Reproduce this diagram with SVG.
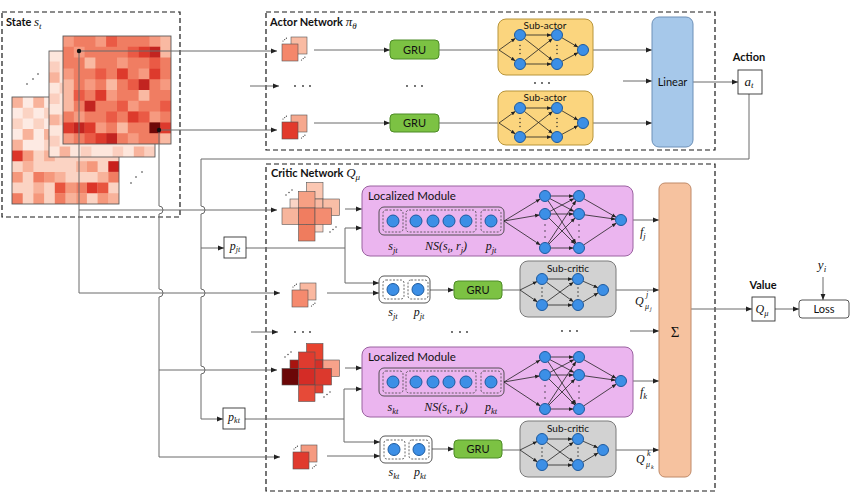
<svg xmlns="http://www.w3.org/2000/svg" width="856" height="494" viewBox="0 0 856 494">
<style>
.t{font-family:Lato,"Open Sans",sans-serif;fill:#111}
.b{font-weight:bold;font-size:11px}
.lb{font-family:Lato,"Open Sans",sans-serif;font-size:10px;text-anchor:middle;fill:#111}
.lg{font-size:11px}
.m{font-family:"Liberation Serif","DejaVu Serif",serif;font-style:italic;font-weight:normal;fill:#111}
.ln{stroke:#6a6a6a;stroke-width:1;fill:none}
.ar{marker-end:url(#ah)}
.dash{fill:none;stroke:#1a1a1a;stroke-width:1.2;stroke-dasharray:5 3}
.db{fill:none;stroke:#444;stroke-width:0.8;stroke-dasharray:2 1.5}
.nd{fill:#3c8fe6;stroke:#1d5a9e;stroke-width:1}
.e{stroke:#222;stroke-width:0.8;fill:none;marker-end:url(#sh)}
.cl{stroke:#555;stroke-width:0.6}
.gru{fill:#7cc243;stroke:#4d8b26;stroke-width:1}
.box{fill:#fff;stroke:#333;stroke-width:0.9}
</style>
<defs>
<marker id="ah" markerUnits="userSpaceOnUse" markerWidth="6" markerHeight="6" viewBox="0 0 6 6" refX="6" refY="3" orient="auto"><path d="M0,0.6L6,3L0,5.4z" fill="#222"/></marker>
<marker id="sh" markerUnits="userSpaceOnUse" markerWidth="4.5" markerHeight="4.5" viewBox="0 0 6 6" refX="6" refY="3" orient="auto"><path d="M0,0.5L6,3L0,5.5z" fill="#222"/></marker>
<g id="sa">
<path class="e" d="M0,0L16.5,-11.8"/><path class="e" d="M0,0L16.4,10.9"/>
<path class="e" d="M26.5,-15H52.5"/><path class="e" d="M26.5,14H52.5"/>
<path class="e" d="M25.3,-11.6L53.7,10.6"/><path class="e" d="M25.3,10.6L53.7,-11.6"/>
<path class="e" d="M62.8,-12.3L79.2,-2.75"/><path class="e" d="M62.8,11.4L79.2,2.6"/>
<circle class="nd" cx="21" cy="-15" r="5.5"/><circle class="nd" cx="21" cy="14" r="5.5"/>
<circle class="nd" cx="58" cy="-15" r="5.5"/><circle class="nd" cx="58" cy="14" r="5.5"/>
<circle class="nd" cx="84" cy="0" r="5.5"/>
<g fill="#222"><circle cx="21" cy="-4.5" r="0.7"/><circle cx="21" cy="-0.5" r="0.7"/><circle cx="21" cy="3.5" r="0.7"/><circle cx="58" cy="-4.5" r="0.7"/><circle cx="58" cy="-0.5" r="0.7"/><circle cx="58" cy="3.5" r="0.7"/></g>
</g>
<g id="sc">
<path class="e" d="M0,0L17.1,-8.5"/><path class="e" d="M0,0L17.5,11.9"/>
<path class="e" d="M27.5,-11H52.5"/><path class="e" d="M27.5,15H52.5"/>
<path class="e" d="M26.5,-7.8L53.5,11.8"/><path class="e" d="M26.5,11.8L53.5,-7.8"/>
<path class="e" d="M63,-8.8L78,-2.2"/><path class="e" d="M62.7,12.2L78.3,2.8"/>
<circle class="nd" cx="22" cy="-11" r="5.5"/><circle class="nd" cx="22" cy="15" r="5.5"/>
<circle class="nd" cx="58" cy="-11" r="5.5"/><circle class="nd" cx="58" cy="15" r="5.5"/>
<circle class="nd" cx="83" cy="0" r="5.5"/>
<g fill="#222"><circle cx="22" cy="-2" r="0.7"/><circle cx="22" cy="2" r="0.7"/><circle cx="22" cy="6" r="0.7"/><circle cx="58" cy="-2" r="0.7"/><circle cx="58" cy="2" r="0.7"/><circle cx="58" cy="6" r="0.7"/></g>
</g>
<g id="lm">
<path class="e" d="M0,0L36.3,-22.1"/><path class="e" d="M0,0L35.6,-6.1"/><path class="e" d="M0,0L36.4,24"/>
<path class="e" d="M46.5,-25H69.5"/><path class="e" d="M46.5,-7H69.5"/><path class="e" d="M46.5,27H69.5"/>
<path class="e" d="M45.9,-22.4L70.1,-9.6"/><path class="e" d="M44,-20.4L72,22.4"/>
<path class="e" d="M45.9,-9.6L70.1,-22.4"/><path class="e" d="M44.9,-3.1L71.1,23.1"/>
<path class="e" d="M44,22.4L72,-20.4"/><path class="e" d="M44.9,23.1L71.1,-3.1"/>
<path class="e" d="M79.8,-22.3L112.2,-3.7"/><path class="e" d="M80.4,-6.2L111.6,-1.8"/><path class="e" d="M79.6,24L112.4,2.1"/>
<circle class="nd" cx="41" cy="-25" r="5.5"/><circle class="nd" cx="41" cy="-7" r="5.5"/><circle class="nd" cx="41" cy="27" r="5.5"/>
<circle class="nd" cx="75" cy="-25" r="5.5"/><circle class="nd" cx="75" cy="-7" r="5.5"/><circle class="nd" cx="75" cy="27" r="5.5"/>
<circle class="nd" cx="117" cy="-1" r="5.5"/>
<g fill="#222"><circle cx="41" cy="4" r="0.7"/><circle cx="41" cy="10" r="0.7"/><circle cx="41" cy="16" r="0.7"/><circle cx="75" cy="4" r="0.7"/><circle cx="75" cy="10" r="0.7"/><circle cx="75" cy="16" r="0.7"/></g>
</g>
<g id="pd" fill="#333"><circle cx="1" cy="4" r="0.6"/><circle cx="2.7" cy="2.6" r="0.6"/><circle cx="4.4" cy="1.2" r="0.6"/><circle cx="19.5" cy="23" r="0.6"/><circle cx="21.2" cy="21.6" r="0.6"/><circle cx="22.9" cy="20.2" r="0.6"/></g>
</defs>
<rect width="856" height="494" fill="#fff"/>

<g id="state">
<rect class="dash" x="2" y="12" width="178" height="205"/>
<text x="6" y="26" class="t b">State <tspan class="m" font-size="13">s</tspan><tspan class="m" font-size="9" dy="3">t</tspan></text>
<g transform="translate(12,97) scale(10.7)">
<rect width="10" height="10" fill="#fbd3c3"/>
<path fill="#fdeae3" d="M1 0h1v1h-1zM2 1h1v1h-1zM3 2h1v1h-1zM0 3h1v1h-1zM2 4h1v1h-1zM1 2h1v1h-1zM3 0h1v1h-1zM0 1h1v1h-1zM2 3h1v1h-1zM1 4h1v1h-1z"/>
<path fill="#f8b29a" d="M0 0h1v1h-1zM2 0h1v1h-1zM1 3h1v1h-1zM3 3h1v1h-1zM0 4h1v1h-1zM3 5h1v1h-1zM1 6h1v1h-1zM4 7h1v1h-1zM6 6h1v1h-1zM8 7h1v1h-1zM2 8h1v1h-1zM5 9h1v1h-1zM9 9h1v1h-1z"/>
<path fill="#f5987c" d="M1 5h1v1h-1zM0 7h1v1h-1zM5 8h1v1h-1zM3 7h1v1h-1zM7 6h1v1h-1zM6 9h1v1h-1zM8 9h1v1h-1zM2 9h1v1h-1z"/>
<path fill="#f07d62" d="M2 7h1v1h-1zM9 7h1v1h-1zM4 9h1v1h-1zM0 9h1v1h-1zM6 8h1v1h-1z"/>
<path fill="#e8553f" d="M8 8h1v1h-1zM4 8h1v1h-1z"/>
<path fill="#dc3529" d="M0 5h1v1h-1zM7 8h1v1h-1z"/>
<path fill="#c8201c" d="M9 6h1v1h-1z"/>
<rect width="10" height="10" fill="none" stroke="#555" stroke-width="0.08"/>
</g>
<g transform="translate(49,51) scale(10.6)">
<rect width="10" height="10" fill="#fde6dc"/>
<path fill="#fbcfbf" d="M0 1h1v1h-1zM0 4h1v1h-1zM1 6h1v1h-1zM0 8h1v1h-1zM3 9h1v1h-1zM6 9h1v1h-1zM9 9h1v1h-1zM1 3h1v1h-1z"/>
<path fill="#f8b39c" d="M0 2h1v1h-1zM0 6h1v1h-1zM1 9h1v1h-1zM8 9h1v1h-1z"/>
<rect width="10" height="10" fill="none" stroke="#555" stroke-width="0.08"/>
</g>
<g transform="translate(63,36) scale(10.8)">
<rect width="10" height="10" fill="#f07d62"/>
<path fill="#f69a80" d="M0 0h1v1h-1zM3 0h1v1h-1zM8 0h1v1h-1zM1 1h1v1h-1zM5 2h1v1h-1zM0 3h1v1h-1zM7 3h1v1h-1zM2 4h1v1h-1zM9 4h1v1h-1zM4 5h1v1h-1zM6 6h1v1h-1zM1 7h1v1h-1zM8 7h1v1h-1zM3 8h1v1h-1zM0 9h1v1h-1zM6 9h1v1h-1z"/>
<path fill="#f9b9a2" d="M9 0h1v1h-1zM2 2h1v1h-1zM4 4h1v1h-1zM0 6h1v1h-1zM7 5h1v1h-1zM5 8h1v1h-1zM9 9h1v1h-1zM0 4h1v1h-1zM0 5h1v1h-1zM9 1h1v1h-1z"/>
<path fill="#ea5a45" d="M4 0h1v1h-1zM6 1h1v1h-1zM8 2h1v1h-1zM3 3h1v1h-1zM1 5h1v1h-1zM5 6h1v1h-1zM7 7h1v1h-1zM2 9h1v1h-1zM9 6h1v1h-1zM4 7h1v1h-1zM6 4h1v1h-1z"/>
<path fill="#dd3a2c" d="M7 1h1v1h-1zM5 3h1v1h-1zM8 3h1v1h-1zM3 5h1v1h-1zM0 8h1v1h-1zM9 8h1v1h-1zM6 7h1v1h-1zM3 9h1v1h-1zM2 8h1v1h-1z"/>
<path fill="#c22420" d="M8 1h1v1h-1zM7 4h1v1h-1zM4 9h1v1h-1zM1 8h1v1h-1zM2 6h1v1h-1z"/>
<path fill="#6e0808" d="M8 8h1v1h-1z"/>
<rect width="10" height="10" fill="none" stroke="#555" stroke-width="0.08"/>
</g>
<g fill="#333"><circle cx="27" cy="84" r="0.8"/><circle cx="33" cy="79" r="0.8"/><circle cx="38" cy="74" r="0.8"/><circle cx="131" cy="183" r="0.8"/><circle cx="136" cy="177" r="0.8"/><circle cx="142" cy="172" r="0.8"/></g>
</g>

<g id="actor-frame">
<rect class="dash" x="266" y="12" width="449" height="138"/>
<text x="270" y="26" class="t b">Actor Network <tspan class="m" font-size="13">π</tspan><tspan class="m" font-size="9" dy="3">θ</tspan></text>
<g fill="#333"><circle cx="295" cy="86" r="0.9"/><circle cx="303" cy="86" r="0.9"/><circle cx="310" cy="86" r="0.9"/><circle cx="407" cy="86" r="0.9"/><circle cx="415" cy="86" r="0.9"/><circle cx="422" cy="86" r="0.9"/><circle cx="535" cy="83" r="0.9"/><circle cx="542" cy="83" r="0.9"/><circle cx="549" cy="83" r="0.9"/></g>
</g>
<g id="critic-frame">
<rect class="dash" x="266" y="164" width="449" height="327"/>
<text x="271" y="177" class="t b">Critic Network <tspan class="m" font-size="13">Q</tspan><tspan class="m" font-size="9" dy="3">μ</tspan></text>
<g fill="#333"><circle cx="295" cy="332" r="0.9"/><circle cx="303" cy="332" r="0.9"/><circle cx="310" cy="332" r="0.9"/><circle cx="452" cy="332" r="0.9"/><circle cx="460" cy="332" r="0.9"/><circle cx="467" cy="332" r="0.9"/><circle cx="562" cy="331" r="0.9"/><circle cx="570" cy="331" r="0.9"/><circle cx="577" cy="331" r="0.9"/></g>
</g>

<g id="connectors">
<path class="ln ar" d="M79,51H277"/>
<path class="ln ar" d="M79,51V293H280"/>
<path class="ln ar" d="M79,210H277"/>
<path class="ln ar" d="M159,130H277"/>
<path class="ln ar" d="M159,130V206A4,4 0 0 1 159,214V289A4,4 0 0 1 159,297V457H280"/>
<path class="ln ar" d="M159,370H277"/>
<path class="ln ar" d="M749,94V159H201V206A4,4 0 0 1 201,214V289A4,4 0 0 1 201,297V366A4,4 0 0 1 201,374V419H223"/>
<path class="ln ar" d="M201,248H224"/>
<path class="ln" d="M246,248H345M345,228V283"/>
<path class="ln ar" d="M345,228H362"/>
<path class="ln ar" d="M345,283H379"/>
<path class="ln" d="M245,419H344M344,389V442"/>
<path class="ln ar" d="M344,389H362"/>
<path class="ln ar" d="M344,442H380"/>
<path class="ln ar" d="M314,50H390"/>
<path class="ln" d="M439,50H499"/>
<path class="ln ar" d="M314,123H390"/>
<path class="ln" d="M439,123H499"/>
<path class="ln ar" d="M589.5,50H652"/>
<path class="ln ar" d="M589.5,123H652"/>
<path class="ln ar" d="M623,81H652"/>
<path class="ln ar" d="M693,82H738"/>
<path class="ln ar" d="M250,86H279"/>
<path class="ln ar" d="M251,332H278"/>
<path class="ln ar" d="M327,293H379"/>
<path class="ln ar" d="M327,456H380"/>
<path class="ln ar" d="M345,209H362"/>
<path class="ln ar" d="M345,368H362"/>
<path class="ln ar" d="M430,290H454"/>
<path class="ln" d="M502,290H520"/>
<path class="ln ar" d="M432,449H454"/>
<path class="ln" d="M502,450H520"/>
<path class="ln ar" d="M626.5,220H659"/>
<path class="ln ar" d="M608.5,290H659"/>
<path class="ln ar" d="M630,331H659"/>
<path class="ln ar" d="M626.5,381H659"/>
<path class="ln ar" d="M608.5,450H659"/>
<path class="ln ar" d="M691,309H752"/>
<path class="ln ar" d="M775,309H799"/>
<path class="ln ar" d="M823,277V300"/>
<circle cx="79" cy="51" r="2.2" fill="#111"/>
<circle cx="159" cy="130" r="2.2" fill="#111"/>
</g>

<g id="actor-pair-1">
<rect class="cl" x="291" y="37" width="16" height="17" fill="#f9bba3"/>
<rect class="cl" x="282" y="44" width="16" height="17" fill="#f4876b"/>
<use href="#pd" x="282" y="37"/>
</g>
<g id="actor-pair-2">
<rect class="cl" x="291" y="115" width="16" height="17" fill="#f6a88e"/>
<rect class="cl" x="282" y="122" width="16" height="17" fill="#e23a2c"/>
<use href="#pd" x="282" y="115"/>
</g>
<g id="gru-a1"><rect class="gru" x="390" y="40" width="49" height="19" rx="4"/><text class="lb lg" x="414.5" y="53.8">GRU</text></g>
<g id="gru-a2"><rect class="gru" x="390" y="114" width="49" height="18" rx="4"/><text class="lb lg" x="414.5" y="127.3">GRU</text></g>
<g id="subactor-1">
<rect x="498" y="19" width="95" height="56" rx="8" fill="#fbd57e" stroke="#b8953a"/>
<text class="lb" x="545" y="29">Sub-actor</text>
<use href="#sa" x="499" y="50"/>
</g>
<g id="subactor-2">
<rect x="498" y="91" width="95" height="54" rx="8" fill="#fbd57e" stroke="#b8953a"/>
<text class="lb" x="545" y="101">Sub-actor</text>
<use href="#sa" x="499" y="123"/>
</g>
<g id="linear">
<rect x="652" y="17" width="41" height="130" rx="7" fill="#a6c8ea" stroke="#6c90b8"/>
<text class="lb lg" x="672.5" y="86">Linear</text>
</g>
<g id="action">
<text x="749" y="61" class="t b" text-anchor="middle">Action</text>
<rect class="box" x="738" y="70" width="24" height="24"/>
<text class="m" x="749" y="86" font-size="13" text-anchor="middle">a<tspan font-size="9" dy="2">t</tspan></text>
</g>

<g id="pjt"><rect class="box" x="224" y="237" width="22" height="21"/><text class="m" x="235" y="250" font-size="12" text-anchor="middle">p<tspan font-size="8" dy="2">jt</tspan></text></g>
<g id="pkt"><rect class="box" x="223" y="408" width="22" height="21"/><text class="m" x="234" y="421" font-size="12" text-anchor="middle">p<tspan font-size="8" dy="2">kt</tspan></text></g>

<g id="cross-j">
<rect class="cl" x="306.5" y="182.5" width="16.5" height="16.5" fill="#fbc7b2"/>
<rect class="cl" x="290" y="199" width="16.5" height="16.5" fill="#fbd5c6"/>
<rect class="cl" x="306.5" y="199" width="16.5" height="16.5" fill="#f9b9a2"/>
<rect class="cl" x="323" y="199" width="16.5" height="16.5" fill="#f9bea6"/>
<rect class="cl" x="306.5" y="215.5" width="16.5" height="16.5" fill="#fbd2c2"/>
<rect class="cl" x="298.5" y="191.5" width="16.5" height="16.5" fill="#f6a084"/>
<rect class="cl" x="282" y="208" width="16.5" height="16.5" fill="#f7b59c"/>
<rect class="cl" x="298.5" y="208" width="16.5" height="16.5" fill="#f07d60"/>
<rect class="cl" x="315" y="208" width="16.5" height="16.5" fill="#f38c70"/>
<rect class="cl" x="298.5" y="224.5" width="16.5" height="16.5" fill="#ef7c5e"/>
<g fill="#333"><circle cx="286" cy="195" r="0.7"/><circle cx="289" cy="192.5" r="0.7"/><circle cx="292" cy="190" r="0.7"/><circle cx="330" cy="232" r="0.7"/><circle cx="333" cy="229.5" r="0.7"/><circle cx="336" cy="227" r="0.7"/></g>
</g>
<g id="cross-k">
<rect class="cl" x="306.5" y="343.5" width="16.5" height="16.5" fill="#e8432f"/>
<rect class="cl" x="290" y="360" width="16.5" height="16.5" fill="#a8140f"/>
<rect class="cl" x="306.5" y="360" width="16.5" height="16.5" fill="#d43028"/>
<rect class="cl" x="323" y="360" width="16.5" height="16.5" fill="#f7a28a"/>
<rect class="cl" x="306.5" y="376.5" width="16.5" height="16.5" fill="#e24232"/>
<rect class="cl" x="298.5" y="352" width="16.5" height="16.5" fill="#df3b2f"/>
<rect class="cl" x="282" y="368.5" width="16.5" height="16.5" fill="#6b0707"/>
<rect class="cl" x="298.5" y="368.5" width="16.5" height="16.5" fill="#d42c26"/>
<rect class="cl" x="315" y="368.5" width="16.5" height="16.5" fill="#dc392d"/>
<rect class="cl" x="298.5" y="385" width="16.5" height="16.5" fill="#e64a38"/>
<g fill="#333"><circle cx="285" cy="357" r="0.7"/><circle cx="288" cy="354.5" r="0.7"/><circle cx="291" cy="352" r="0.7"/><circle cx="324" cy="397" r="0.7"/><circle cx="327" cy="394.5" r="0.7"/><circle cx="330" cy="392" r="0.7"/></g>
</g>

<g id="localized-j">
<rect x="362" y="186" width="271" height="70" rx="8" fill="#ebb5ef" stroke="#9a62a0"/>
<text x="368" y="200" class="t" font-size="11.5">Localized Module</text>
<rect x="379" y="207" width="125" height="28" rx="5" fill="none" stroke="#444" stroke-width="0.9"/>
<rect class="db" x="383" y="210" width="20" height="22" rx="3"/>
<rect class="db" x="406" y="210" width="70" height="22" rx="3"/>
<rect class="db" x="481" y="210" width="20" height="22" rx="3"/>
<circle class="nd" cx="393" cy="221" r="6"/><circle class="nd" cx="416" cy="221" r="6"/><circle class="nd" cx="433" cy="221" r="6"/><circle class="nd" cx="449" cy="221" r="6"/><circle class="nd" cx="466" cy="221" r="6"/><circle class="nd" cx="491" cy="221" r="6"/>
<use href="#lm" x="504" y="221"/>
<text class="m" x="393" y="250" font-size="12" text-anchor="middle">s<tspan font-size="8.5" dy="2.5">jt</tspan></text>
<text class="m" x="446" y="250" font-size="12" text-anchor="middle">NS(s<tspan font-size="8.5" dy="2.5">t</tspan><tspan dy="-2.5">, r</tspan><tspan font-size="8.5" dy="2.5">j</tspan><tspan dy="-2.5">)</tspan></text>
<text class="m" x="491" y="250" font-size="12" text-anchor="middle">p<tspan font-size="8.5" dy="2.5">jt</tspan></text>
</g>
<g id="localized-k">
<rect x="362" y="347" width="271" height="70" rx="8" fill="#ebb5ef" stroke="#9a62a0"/>
<text x="368" y="361" class="t" font-size="11.5">Localized Module</text>
<rect x="379" y="368" width="125" height="28" rx="5" fill="none" stroke="#444" stroke-width="0.9"/>
<rect class="db" x="383" y="371" width="20" height="22" rx="3"/>
<rect class="db" x="406" y="371" width="70" height="22" rx="3"/>
<rect class="db" x="481" y="371" width="20" height="22" rx="3"/>
<circle class="nd" cx="393" cy="382" r="6"/><circle class="nd" cx="416" cy="382" r="6"/><circle class="nd" cx="433" cy="382" r="6"/><circle class="nd" cx="449" cy="382" r="6"/><circle class="nd" cx="466" cy="382" r="6"/><circle class="nd" cx="491" cy="382" r="6"/>
<use href="#lm" x="504" y="382"/>
<text class="m" x="393" y="411" font-size="12" text-anchor="middle">s<tspan font-size="8.5" dy="2.5">kt</tspan></text>
<text class="m" x="446" y="411" font-size="12" text-anchor="middle">NS(s<tspan font-size="8.5" dy="2.5">t</tspan><tspan dy="-2.5">, r</tspan><tspan font-size="8.5" dy="2.5">k</tspan><tspan dy="-2.5">)</tspan></text>
<text class="m" x="491" y="411" font-size="12" text-anchor="middle">p<tspan font-size="8.5" dy="2.5">kt</tspan></text>
</g>

<g id="critic-pair-j">
<rect class="cl" x="300" y="283" width="16" height="17" fill="#fab8a0"/>
<rect class="cl" x="292" y="290" width="16" height="17" fill="#f58a6e"/>
<use href="#pd" x="292" y="283"/>
</g>
<g id="critic-pair-k">
<rect class="cl" x="301" y="445" width="16" height="17" fill="#f59a80"/>
<rect class="cl" x="293" y="452" width="16" height="17" fill="#e03a2e"/>
<use href="#pd" x="293" y="445"/>
</g>
<g id="input-j">
<rect x="379" y="276" width="51" height="27" rx="5" fill="#fff" stroke="#444" stroke-width="0.9"/>
<rect class="db" x="383" y="280" width="21" height="19" rx="3"/>
<rect class="db" x="408" y="280" width="20" height="19" rx="3"/>
<circle class="nd" cx="393" cy="289.5" r="6"/><circle class="nd" cx="418" cy="289.5" r="6"/>
<text class="m" x="393" y="316" font-size="12" text-anchor="middle">s<tspan font-size="8.5" dy="2.5">jt</tspan></text>
<text class="m" x="419" y="316" font-size="12" text-anchor="middle">p<tspan font-size="8.5" dy="2.5">jt</tspan></text>
</g>
<g id="input-k">
<rect x="380" y="436" width="52" height="27" rx="5" fill="#fff" stroke="#444" stroke-width="0.9"/>
<rect class="db" x="384" y="440" width="21" height="19" rx="3"/>
<rect class="db" x="409" y="440" width="20" height="19" rx="3"/>
<circle class="nd" cx="394" cy="449.5" r="6"/><circle class="nd" cx="419" cy="449.5" r="6"/>
<text class="m" x="394" y="476" font-size="12" text-anchor="middle">s<tspan font-size="8.5" dy="2.5">kt</tspan></text>
<text class="m" x="420" y="476" font-size="12" text-anchor="middle">p<tspan font-size="8.5" dy="2.5">kt</tspan></text>
</g>
<g id="gru-cj"><rect class="gru" x="454" y="281" width="48" height="18" rx="4"/><text class="lb lg" x="478" y="294.2">GRU</text></g>
<g id="gru-ck"><rect class="gru" x="454" y="440" width="48" height="18" rx="4"/><text class="lb lg" x="478" y="453.2">GRU</text></g>
<g id="subcritic-j">
<rect x="520" y="261" width="96" height="56" rx="8" fill="#d2d2d2" stroke="#7a7a7a"/>
<text class="lb" x="568" y="272">Sub-critic</text>
<use href="#sc" x="520" y="290"/>
</g>
<g id="subcritic-k">
<rect x="520" y="421" width="96" height="56" rx="8" fill="#d2d2d2" stroke="#7a7a7a"/>
<text class="lb" x="568" y="432">Sub-critic</text>
<use href="#sc" x="520" y="450"/>
</g>

<g id="labels-critic">
<text class="m" x="640" y="236" font-size="12">f<tspan font-size="8.5" dy="2.5">j</tspan></text>
<text class="m" x="640" y="396" font-size="12">f<tspan font-size="8.5" dy="2.5">k</tspan></text>
<text class="m" x="635" y="305" font-size="12">Q</text>
<text class="m" x="646" y="297" font-size="8">j</text>
<text class="m" x="645" y="309" font-size="8">μ</text>
<text class="m" x="650" y="311" font-size="6">j</text>
<text class="m" x="636" y="463" font-size="12">Q</text>
<text class="m" x="647" y="456" font-size="8">k</text>
<text class="m" x="646" y="467" font-size="8">μ</text>
<text class="m" x="651" y="469" font-size="6">k</text>
</g>
<g id="sigma">
<rect x="659" y="183" width="32" height="294" rx="6" fill="#f6c29f" stroke="#c08a68"/>
<text x="675" y="337" font-family="Liberation Serif,DejaVu Serif,serif" font-size="15" text-anchor="middle" fill="#111">Σ</text>
</g>
<g id="value">
<text x="763" y="289" class="t b" text-anchor="middle">Value</text>
<rect class="box" x="752" y="297" width="23" height="24"/>
<text class="m" x="762" y="313" font-size="12" text-anchor="middle">Q<tspan font-size="8.5" dy="2.5">μ</tspan></text>
</g>
<g id="loss">
<rect x="799" y="300" width="50" height="18" rx="3" fill="#fff" stroke="#444" stroke-width="0.9"/>
<text class="lb lg" x="824" y="313">Loss</text>
</g>
<g id="yi"><text class="m" x="822" y="269" font-size="13" text-anchor="middle">y<tspan font-size="9" dy="2.5">i</tspan></text></g>
</svg>
